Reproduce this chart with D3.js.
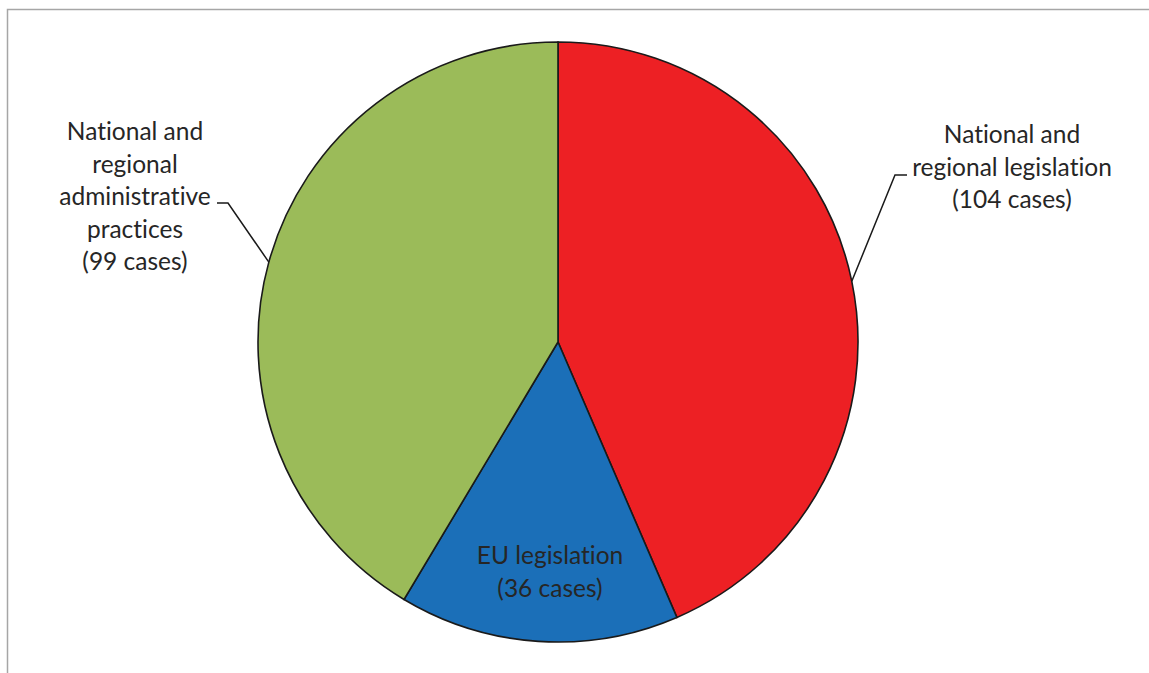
<!DOCTYPE html>
<html>
<head>
<meta charset="utf-8">
<script src="https://cdn.jsdelivr.net/npm/d3@7"></script>
<style>
  body { margin: 0; background: #fff; }
  text { font-family: Lato, "Open Sans", sans-serif; fill: #262626; font-variant-ligatures: none; }
</style>
</head>
<body>
<div id="chart"></div>
<script>
var categories = ["National and regional legislation", "EU legislation", "National and regional administrative practices"];
var cases = [104, 36, 99];
var colors = ["#ED2024", "#1B6FB8", "#9BBB59"];
var labelLines = [
  ["National and", "regional legislation", "(104 cases)"],
  ["EU legislation", "(36 cases)"],
  ["National and", "regional", "administrative", "practices", "(99 cases)"]
];

var width = 1149, height = 673;
var cx = 558, cy = 342, radius = 300;

var svg = d3.select("#chart")
  .append("svg")
  .attr("width", width)
  .attr("height", height);

// frame (only top and left edges show in the crop)
svg.append("path")
  .attr("d", "M7.5," + height + "V9.5H" + width)
  .attr("fill", "none")
  .attr("stroke", "#a6a6a6")
  .attr("stroke-width", 1.5);

var pie = d3.pie().sort(null).value(function(d){ return d; });
var arc = d3.arc().innerRadius(0).outerRadius(radius);
var arcs = pie(cases);

var g = svg.append("g").attr("transform", "translate(" + cx + "," + cy + ")");

g.selectAll("path.slice")
  .data(arcs)
  .enter()
  .append("path")
  .attr("class", "slice")
  .attr("d", arc)
  .attr("fill", function(d, i){ return colors[i]; })
  .attr("stroke", "#1a1a1a")
  .attr("stroke-width", 1.6);

// label placement: x, y of first baseline, elbow of leader line
var labelPos = [
  {x: 1012, y: 143, elbow: [[895, 175], [907, 175]]},
  {x: 550, y: 564, elbow: null},
  {x: 135, y: 140, elbow: [[228, 203], [217, 203]]}
];
var lineH = 32.5;

function midPoint(d){
  var a = (d.startAngle + d.endAngle) / 2;
  return [cx + radius * Math.sin(a), cy - radius * Math.cos(a)];
}

arcs.forEach(function(d, i){
  var p = labelPos[i];
  if (p.elbow) {
    var pts = [midPoint(d)].concat(p.elbow);
    svg.append("path")
      .attr("d", d3.line()(pts))
      .attr("fill", "none")
      .attr("stroke", "#1a1a1a")
      .attr("stroke-width", 1.5);
  }
  var t = svg.append("text")
    .attr("text-anchor", "middle")
    .attr("font-size", 24.5);
  labelLines[i].forEach(function(s, j){
    t.append("tspan")
      .attr("x", p.x)
      .attr("y", p.y + j * lineH)
      .text(s);
  });
});
</script>
</body>
</html>
